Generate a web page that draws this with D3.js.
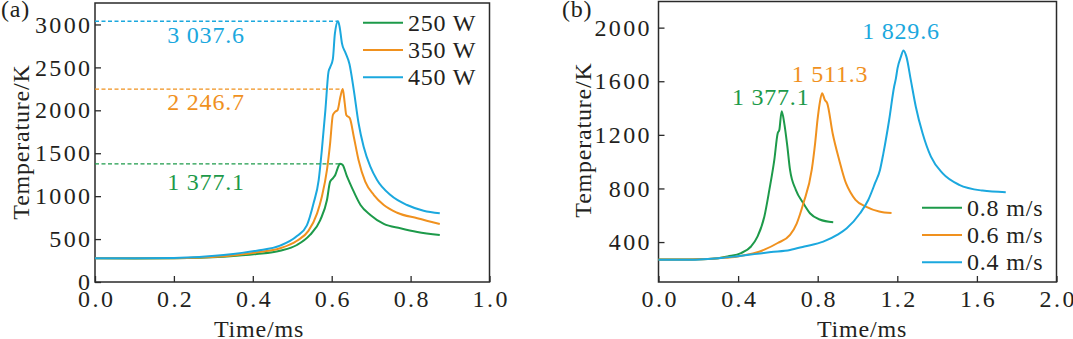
<!DOCTYPE html>
<html>
<head>
<meta charset="utf-8">
<script src="https://cdn.jsdelivr.net/npm/d3@7"></script>
<style>
  body { margin: 0; background: #fff; }
  svg text { font-family: "Liberation Serif", "Times New Roman", Times, serif; }
  .frame { fill: none; stroke: #2a2a2a; stroke-width: 1.5; }
  .axis text { font-size: 24px; fill: #231f20; letter-spacing: 2.4px; }
  .axis line { stroke: #2a2a2a; stroke-width: 1.3; }
  .axis path { display: none; }
  .title { font-size: 24px; fill: #231f20; letter-spacing: 0.8px; }
  .curve { fill: none; stroke-width: 2; stroke-linejoin: round; }
</style>
</head>
<body>
<svg id="chart" width="1073" height="339"></svg>
<script>
// panel (a): laser power, [time ms, temperature K]
const powerNames = ['250 W', '350 W', '450 W'];
const power250 = [[0, 276], [0.1, 275], [0.2, 277], [0.326, 295], [0.41, 326], [0.469, 365], [0.512, 431], [0.545, 548], [0.571, 722], [0.588, 955], [0.596, 1168], [0.603, 1208], [0.609, 1246], [0.615, 1324], [0.621, 1377], [0.627, 1368], [0.639, 1227], [0.652, 1091], [0.673, 897], [0.698, 780], [0.732, 676], [0.774, 625], [0.817, 582], [0.874, 547]];
const power350 = [[0, 277], [0.1, 276], [0.2, 278], [0.326, 300], [0.41, 346], [0.469, 393], [0.512, 481], [0.541, 596], [0.563, 800], [0.575, 994], [0.588, 1305], [0.596, 1616], [0.603, 1945], [0.609, 1984], [0.615, 2003], [0.622, 2158], [0.628, 2247], [0.633, 2085], [0.637, 1945], [0.646, 1907], [0.656, 1692], [0.668, 1421], [0.685, 1168], [0.707, 1013], [0.732, 897], [0.766, 807], [0.817, 742], [0.874, 676]];
const power450 = [[0, 277], [0.1, 276], [0.2, 279], [0.326, 314], [0.41, 365], [0.469, 423], [0.512, 535], [0.537, 660], [0.554, 917], [0.567, 1188], [0.575, 1537], [0.584, 2003], [0.592, 2450], [0.596, 2500], [0.603, 2600], [0.608, 2890], [0.616, 3038], [0.62, 2974], [0.626, 2780], [0.635, 2670], [0.645, 2540], [0.656, 2236], [0.668, 1852], [0.681, 1576], [0.698, 1343], [0.715, 1188], [0.749, 1013], [0.791, 897], [0.833, 831], [0.874, 800]];
const powerPeaks = [[0.621, 1377.1, '1 377.1'], [0.628, 2246.7, '2 246.7'], [0.616, 3037.6, '3 037.6']];

// panel (b): scanning speed
const speedNames = ['0.8 m/s', '0.6 m/s', '0.4 m/s'];
const speed08 = [[0, 270], [0.1, 270], [0.2, 271], [0.3, 280], [0.348, 293], [0.415, 318], [0.465, 367], [0.498, 442], [0.532, 591], [0.557, 789], [0.582, 1013], [0.599, 1212], [0.607, 1236], [0.619, 1377], [0.632, 1286], [0.647, 1120], [0.661, 938], [0.69, 790], [0.728, 689], [0.761, 615], [0.81, 568], [0.878, 547]];
const speed06 = [[0, 270], [0.1, 270], [0.2, 272], [0.3, 280], [0.398, 293], [0.532, 343], [0.599, 393], [0.661, 453], [0.695, 540], [0.728, 689], [0.77, 938], [0.787, 1137], [0.799, 1311], [0.81, 1435], [0.822, 1511], [0.836, 1460], [0.848, 1435], [0.875, 1212], [0.908, 1013], [0.942, 839], [0.965, 770], [0.99, 715], [1.042, 665], [1.109, 628], [1.171, 616]];
const speed04 = [[0, 268], [0.147, 268], [0.314, 281], [0.398, 295], [0.482, 310], [0.566, 325], [0.661, 341], [0.733, 367], [0.828, 403], [0.9, 455], [0.946, 503], [1.013, 615], [1.054, 714], [1.088, 839], [1.113, 938], [1.13, 1062], [1.159, 1311], [1.184, 1559], [1.193, 1621], [1.201, 1696], [1.218, 1782], [1.231, 1830], [1.246, 1782], [1.268, 1608], [1.293, 1410], [1.327, 1212], [1.369, 1037], [1.427, 914], [1.511, 827], [1.628, 784], [1.745, 772]];
const speedPeaks = [[0.619, 1377.1, '1 377.1'], [0.822, 1511.3, '1 511.3'], [1.231, 1829.6, '1 829.6']];

const colors = ['#1d9a4a', '#f0911e', '#1ba8de'];

const svg = d3.select('#chart');

function panel(opt) {
  const x = d3.scaleLinear().domain(opt.xDomain).range(opt.xRange);
  const y = d3.scaleLinear().domain(opt.yDomain).range(opt.yRange);
  const g = svg.append('g');

  g.append('g')
    .attr('class', 'axis')
    .attr('transform', `translate(0,${opt.yRange[0]})`)
    .call(d3.axisBottom(x).tickValues(opt.xTicks).tickFormat(d3.format('.1f'))
      .tickSizeInner(-6).tickSizeOuter(0).tickPadding(8))
    .attr('font-family', null).attr('font-size', null)
    .selectAll('text').attr('dx', 1.2);

  g.append('g')
    .attr('class', 'axis')
    .attr('transform', `translate(${opt.xRange[0]},0)`)
    .call(d3.axisLeft(y).tickValues(opt.yTicks).tickFormat(d3.format('d'))
      .tickSizeInner(-6).tickSizeOuter(0).tickPadding(opt.yPad))
    .attr('font-family', null).attr('font-size', null);

  g.append('rect')
    .attr('class', 'frame')
    .attr('x', opt.xRange[0]).attr('y', opt.yRange[1])
    .attr('width', opt.xRange[1] - opt.xRange[0])
    .attr('height', opt.yRange[0] - opt.yRange[1]);

  const line = d3.line().x(d => x(d[0])).y(d => y(d[1])).curve(d3.curveMonotoneX);

  opt.series.forEach((s, i) => {
    g.append('path')
      .datum(s)
      .attr('class', 'curve')
      .attr('stroke', colors[i])
      .attr('d', line);
  });

  // legend
  opt.names.forEach((n, i) => {
    const ly = opt.legend[1] + i * opt.legend[2];
    g.append('line')
      .attr('x1', opt.legend[0]).attr('x2', opt.legend[0] + 40)
      .attr('y1', ly).attr('y2', ly)
      .attr('stroke', colors[i]).attr('stroke-width', 2);
    g.append('text')
      .attr('class', 'title')
      .attr('x', opt.legend[0] + 45).attr('y', ly + 8)
      .text(n);
  });

  g.append('text')
    .attr('class', 'title')
    .attr('x', opt.label[0]).attr('y', 17)
    .text(opt.label[1]);

  g.append('text')
    .attr('class', 'title')
    .attr('text-anchor', 'middle')
    .attr('x', opt.xTitle[0]).attr('y', opt.xTitle[1])
    .text('Time/ms');

  g.append('text')
    .attr('class', 'title')
    .attr('text-anchor', 'middle')
    .attr('transform', `translate(${opt.yTitle[0]},${opt.yTitle[1]}) rotate(-90)`)
    .text('Temperature/K');

  return {g, x, y};
}

// (a)
const a = panel({
  xDomain: [0, 1], xRange: [95, 489.5],
  yDomain: [0, 3250], yRange: [282, 3],
  xTicks: [0, 0.2, 0.4, 0.6, 0.8, 1.0],
  yTicks: [0, 500, 1000, 1500, 2000, 2500, 3000],
  yPad: 2.5,
  series: [power250, power350, power450],
  names: powerNames,
  legend: [363, 22.7, 27.3],
  label: [1, '(a)'],
  xTitle: [259, 337],
  yTitle: [29, 142]
});

const peakTextDy = [26, 21, 22];
powerPeaks.forEach((p, i) => {
  a.g.append('line')
    .attr('x1', a.x(0)).attr('x2', a.x(p[0]))
    .attr('y1', a.y(p[1])).attr('y2', a.y(p[1]))
    .attr('stroke', colors[i]).attr('stroke-width', 1.3)
    .attr('stroke-dasharray', '4,2.5');
  a.g.append('text')
    .attr('class', 'title')
    .attr('text-anchor', 'middle')
    .attr('x', 206).attr('y', a.y(p[1]) + peakTextDy[i])
    .style('fill', colors[i])
    .text(p[2]);
});

// (b)
const b = panel({
  xDomain: [0, 2], xRange: [658.5, 1056.5],
  yDomain: [102, 2195], yRange: [282, 1.5],
  xTicks: [0, 0.4, 0.8, 1.2, 1.6, 2.0],
  yTicks: [400, 800, 1200, 1600, 2000],
  yPad: 6.5,
  series: [speed08, speed06, speed04],
  names: speedNames,
  legend: [922, 207.7, 27.3],
  label: [562, '(b)'],
  xTitle: [862, 337],
  yTitle: [591, 140]
});

const speedTextDx = [-11, 8, -2.5];
const speedTextDy = [-6, -11, -11];
speedPeaks.forEach((p, i) => {
  b.g.append('text')
    .attr('class', 'title')
    .attr('text-anchor', 'middle')
    .attr('x', b.x(p[0]) + speedTextDx[i]).attr('y', b.y(p[1]) + speedTextDy[i])
    .style('fill', colors[i])
    .text(p[2]);
});
</script>
</body>
</html>
